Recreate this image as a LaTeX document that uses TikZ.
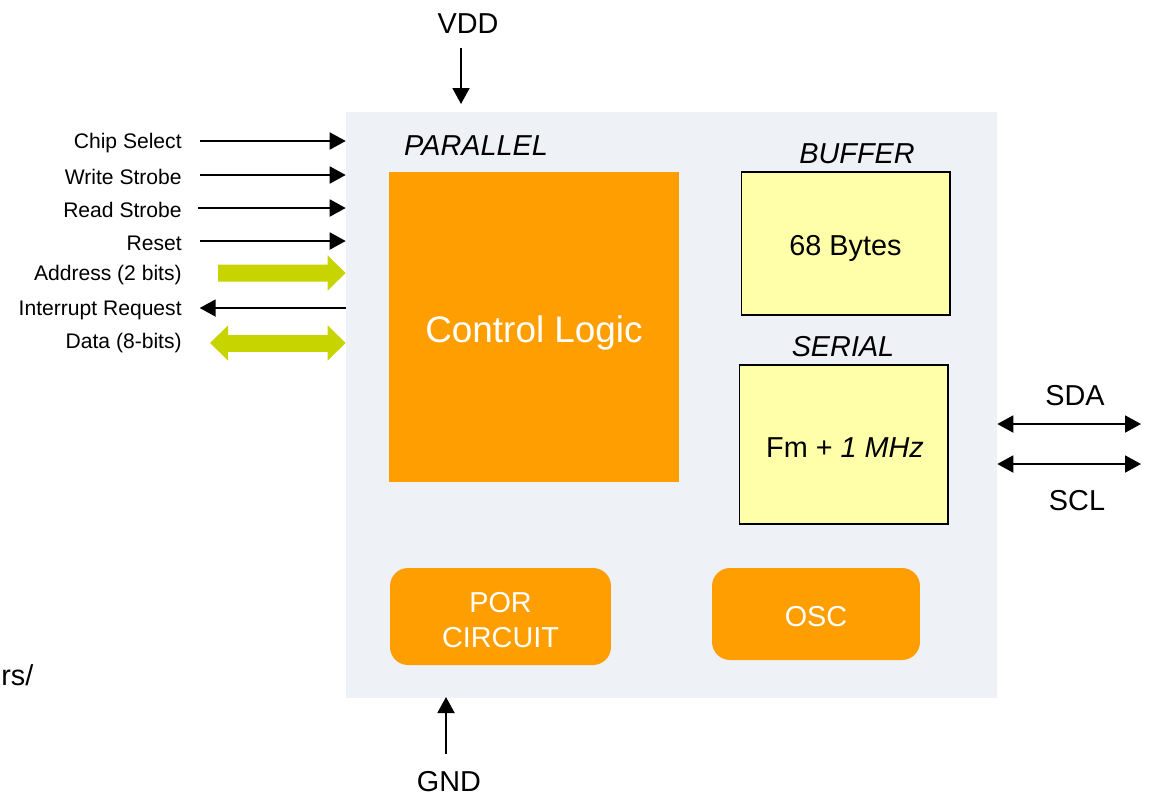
\documentclass[tikz,border=0pt]{standalone}
\usepackage{xcolor}
\usepackage{fontspec}
\setmainfont{Liberation Sans}
\usepackage{tikz}
\usetikzlibrary{arrows.meta, positioning}

\definecolor{chipbg}{RGB}{238,241,246}
\definecolor{logicorange}{RGB}{255,158,0}
\definecolor{memyellow}{RGB}{255,255,170}
\definecolor{busgreen}{RGB}{200,212,0}

\begin{document}
\begin{tikzpicture}[
    x=0.02cm, y=-0.02cm,
    chipbox/.style={fill=chipbg, minimum width=13.02cm, minimum height=11.72cm},
    logic/.style={fill=logicorange, text=white, align=center, font=\fontsize{21}{25}\selectfont},
    smallblk/.style={fill=logicorange, text=white, align=center, rounded corners=0.36cm, font=\fontsize{16.4}{19.8}\selectfont},
    mem/.style={draw=black, line width=0.6pt, fill=memyellow, font=\fontsize{16.4}{19.5}\selectfont},
    title/.style={font=\fontsize{16.4}{19.5}\selectfont\itshape},
    pin/.style={font=\fontsize{16.4}{19.5}\selectfont},
    lbl/.style={anchor=east, inner sep=0pt, font=\fontsize{12}{14}\selectfont},
    sig/.style={line width=1.1pt, -{Triangle[length=0.32cm, width=0.34cm]}},
    bisig/.style={line width=1.1pt, {Triangle[length=0.32cm, width=0.34cm]}-{Triangle[length=0.32cm, width=0.34cm]}},
    bus/.style={busgreen, line width=0.34cm, -{Triangle[length=0.36cm, width=0.68cm]}},
    bibus/.style={busgreen, line width=0.34cm, {Triangle[length=0.36cm, width=0.68cm]}-{Triangle[length=0.36cm, width=0.68cm]}}
]
\useasboundingbox (0,0) rectangle (1152,801);

% Nodes
\node[chipbox] (chip) at (671.5,405) {};
\node[logic, minimum width=5.8cm, minimum height=6.2cm] (ctrl) at (534,327) {};
\node[logic] (ctrltext) at (534,333) {Control Logic};
\node[mem, minimum width=4.18cm, minimum height=2.86cm] (buf) at (845.5,243.5) {};
\node[font=\fontsize{16.4}{19.5}\selectfont] (buftext) at (845.5,248) {68 Bytes};
\node[mem, minimum width=4.18cm, minimum height=3.18cm] (ser) at (843.5,444.5) {};
\node[font=\fontsize{16.4}{19.5}\selectfont] (sertext) at (845,448) {Fm + \textit{1 MHz}};
\node[smallblk, minimum width=4.42cm, minimum height=1.94cm] (por) at (500.5,616.5) {};
\node[smallblk] (portext) at (500.5,620) {POR\\CIRCUIT};
\node[smallblk, minimum width=4.16cm, minimum height=1.84cm] (osc) at (816,614) {};
\node[smallblk] (osctext) at (816,617) {OSC};

\node[title] (partitle) at (476,146) {PARALLEL};
\node[title] (buftitle) at (857,154) {BUFFER};
\node[title] (sertitle) at (843,347) {SERIAL};

\node[pin] (vdd) at (468,24) {VDD};
\node[pin] (gnd) at (449,782) {GND};
\node[pin] (sda) at (1075,396) {SDA};
\node[pin] (scl) at (1077,501) {SCL};
\node[pin, anchor=west, inner sep=0pt] (cut) at (1,675) {rs/};

\node[lbl] (cs) at (182,143) {Chip Select};
\node[lbl] (ws) at (182,177) {Write Strobe};
\node[lbl] (rs) at (182,210) {Read Strobe};
\node[lbl] (rst) at (182,243) {Reset};
\node[lbl] (addr) at (182,275) {Address (2 bits)};
\node[lbl] (irq) at (182,310) {Interrupt Request};
\node[lbl] (data) at (182,343) {Data (8-bits)};

\coordinate (vddtop) at (461,48);
\coordinate (vddin) at (461,104);
\coordinate (gndbot) at (446,754);
\coordinate (gndin) at (446,697);
\coordinate (sdaend) at (1141,424);
\coordinate (sclend) at (1141,464);

% Edges
\draw[sig] (cs.east) ++(18,-2) -- ([yshift=0.04cm]chip.west |- cs.east);
\draw[sig] (ws.east) ++(18,-2) -- ([yshift=0.04cm]chip.west |- ws.east);
\draw[sig] (rs.east) ++(16,-2) -- ([yshift=0.04cm]chip.west |- rs.east);
\draw[sig] (rst.east) ++(18,-2) -- ([yshift=0.04cm]chip.west |- rst.east);
\draw[bus] (addr.east) ++(36,-2) -- ([yshift=0.04cm]chip.west |- addr.east);
\draw[sig] ([yshift=0.04cm]chip.west |- irq.east) -- ++(-146,0);
\draw[bibus] (data.east) ++(28,0) -- (chip.west |- data.east);

\draw[sig] (vddtop) -- (vddin);
\draw[sig] (gndbot) -- (gndin);
\draw[bisig] (chip.east |- sdaend) -- (sdaend);
\draw[bisig] (chip.east |- sclend) -- (sclend);

\end{tikzpicture}
\end{document}
